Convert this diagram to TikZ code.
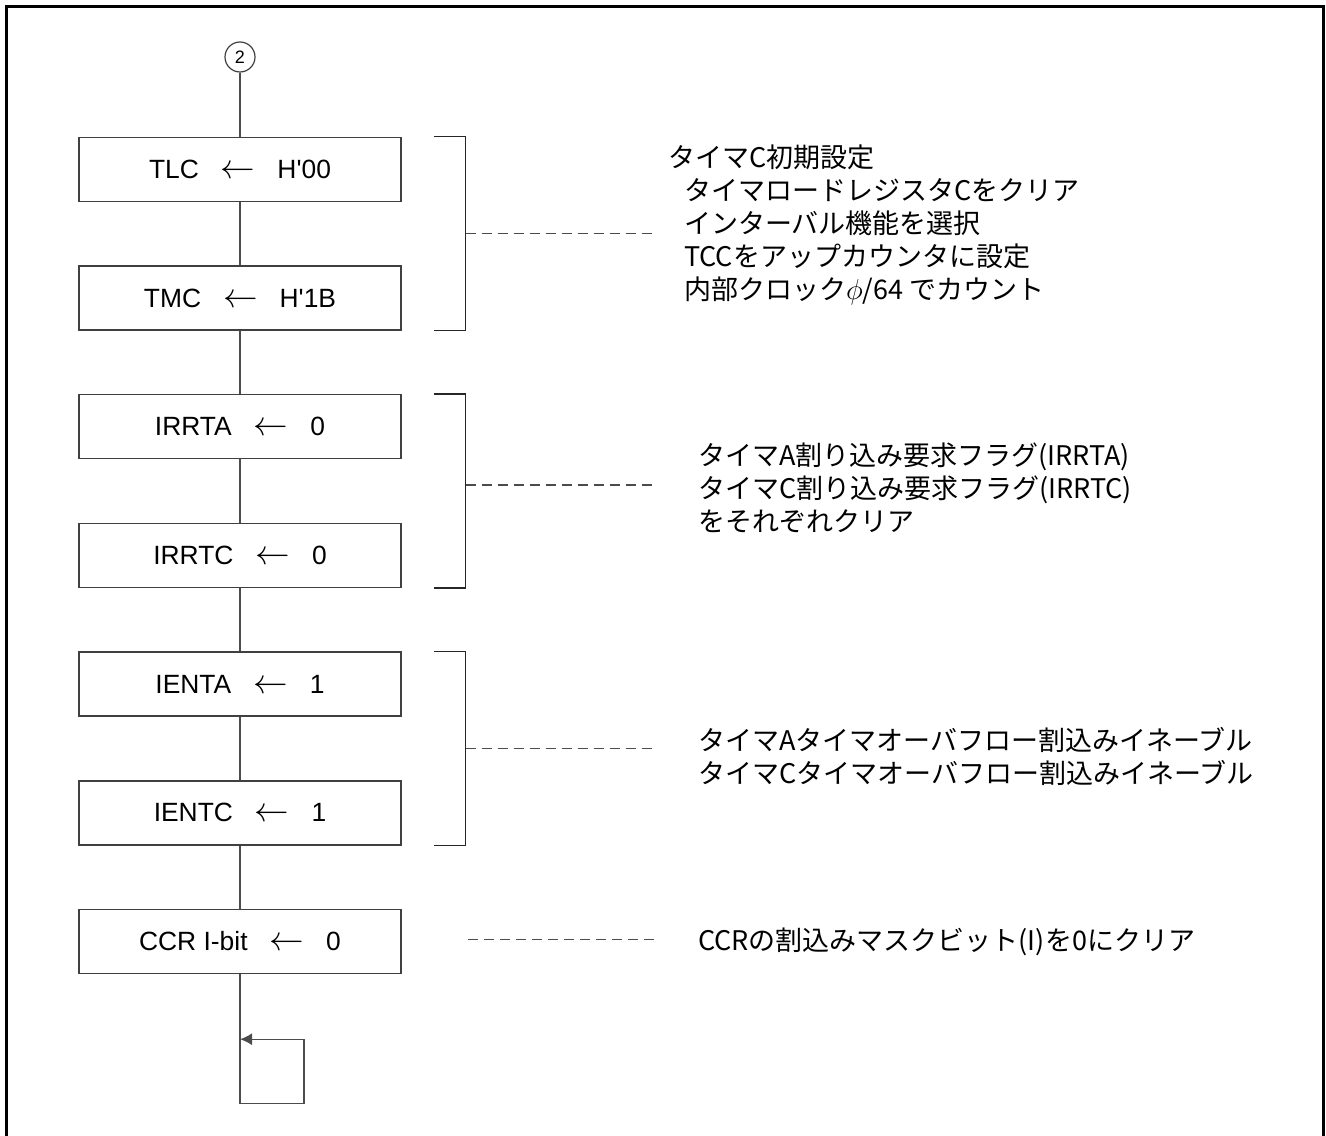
\documentclass[tikz,border=0pt]{standalone}
\usepackage{fontspec}
\setmainfont{Liberation Sans}
\newfontfamily\jpfont{Noto Sans CJK JP}
\usetikzlibrary{positioning,calc,arrows.meta}

\newcommand{\getarrow}{\hspace{11pt}{\fontsize{17}{17}\selectfont$\leftarrow$}\hspace{11pt}}

\begin{document}
\begin{tikzpicture}[x=0.5pt,y=-0.5pt,node distance=31.65pt]
        \tikzstyle{box}=[draw=black!75,line width=0.7pt,rectangle,minimum width=161pt,minimum height=32pt,align=center,font=\fontsize{13.2}{15}\selectfont]
        \tikzstyle{conn}=[draw=black!70,line width=0.7pt]
        \tikzstyle{bracket}=[draw=black!85,line width=0.7pt]
        \tikzstyle{leader}=[draw=black!70,line width=0.7pt,dash pattern=on 5pt off 3pt]
        \tikzstyle{note}=[align=left,inner sep=0pt,font=\jpfont\fontsize{13.5}{16.5}\selectfont]

        \useasboundingbox (0,0) rectangle (1326,1135);
        \draw[line width=1.5pt] (6.5,1145) -- (6.5,6.5) -- (1323,6.5) -- (1323,1145);

        \node[circle,draw=black!75,line width=0.6pt,minimum size=15pt,inner sep=0pt,font=\fontsize{9}{10}\selectfont] (conn2) at (240,57) {2};
        \node[box] (tlc) [below=32pt of conn2] {TLC\getarrow H\textquotesingle 00}
            edge[conn] (conn2);
        \node[box] (tmc) [below=of tlc] {TMC\getarrow H\textquotesingle 1B}
            edge[conn] (tlc);
        \node[box] (irrta) [below=of tmc] {IRRTA\getarrow 0}
            edge[conn] (tmc);
        \node[box] (irrtc) [below=of irrta] {IRRTC\getarrow 0}
            edge[conn] (irrta);
        \node[box] (ienta) [below=of irrtc] {IENTA\getarrow 1}
            edge[conn] (irrtc);
        \node[box] (ientc) [below=of ienta] {IENTC\getarrow 1}
            edge[conn] (ienta);
        \node[box] (ccr) [below=of ientc] {CCR I-bit\getarrow 0}
            edge[conn] (ientc);

        % endless loop
        \draw[conn] (ccr.south) -- ++(0pt,-64.5pt) coordinate (loopa) -- ++(32pt,0pt) -- ++(0pt,32pt) coordinate (loopb);
        \draw[conn,-{Latex[length=6pt,width=6pt]}] (loopb) -- (loopb -| ccr.south);

        % brackets
        \draw[bracket] ([xshift=16pt]tlc.north east) -- ++(16pt,0pt) |- ([xshift=16pt]tmc.south east);
        \draw[bracket] ([xshift=16pt]irrta.north east) -- ++(16pt,0pt) |- ([xshift=16pt]irrtc.south east);
        \draw[bracket] ([xshift=16pt]ienta.north east) -- ++(16pt,0pt) |- ([xshift=16pt]ientc.south east);

        \coordinate (m1) at ($(tlc.north east)!0.5!(tmc.south east)+(32pt,0pt)$);
        \coordinate (m2) at ($(irrta.north east)!0.5!(irrtc.south east)+(32pt,3pt)$);
        \coordinate (m3) at ($(ienta.north east)!0.5!(ientc.south east)+(32pt,0pt)$);
        \coordinate (m4) at ($(ccr.east)+(33pt,1pt)$);
        \draw[leader] (m1) -- ++(94pt,0pt) coordinate (d1);
        \draw[leader] (m2) -- ++(94pt,0pt) coordinate (d2);
        \draw[leader] (m3) -- ++(94pt,0pt) coordinate (d3);
        \draw[leader] (m4) -- ++(93pt,0pt) coordinate (d4);

        \node[note] (timerc) [right=7pt of d1,yshift=4.3pt] {タイマC初期設定\\
            \hspace*{8pt}タイマロードレジスタCをクリア\\
            \hspace*{8pt}インターバル機能を選択\\
            \hspace*{8pt}TCCをアップカウンタに設定\\
            \hspace*{8pt}内部クロック$\phi$/64 でカウント};
        \node[note] (irrclr) [right=22pt of d2,yshift=-1.5pt] {タイマA割り込み要求フラグ(IRRTA)\\
            タイマC割り込み要求フラグ(IRRTC)\\
            をそれぞれクリア};
        \node[note] (ienset) [right=22pt of d3,yshift=-4pt] {タイマAタイマオーバフロー割込みイネーブル\\
            タイマCタイマオーバフロー割込みイネーブル};
        \node[note] (ccrclr) [right=22pt of d4,yshift=-1pt] {CCRの割込みマスクビット(I)を0にクリア};
    \end{tikzpicture}
\end{document}
